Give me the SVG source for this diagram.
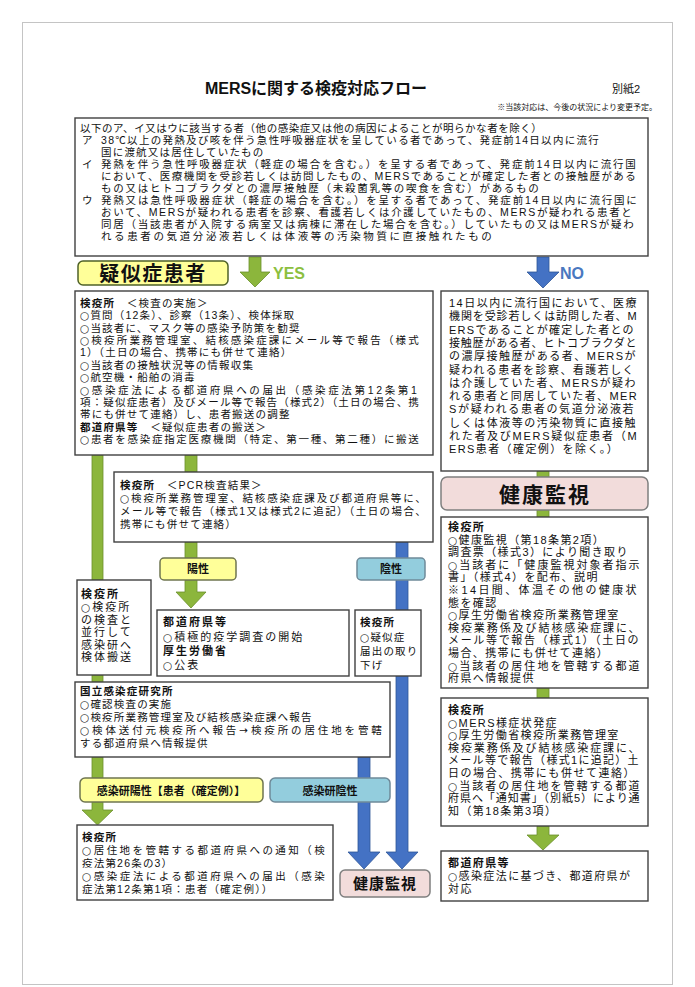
<svg xmlns="http://www.w3.org/2000/svg" width="695" height="987" viewBox="0 0 695 987">
<style>
text{font-family:"Liberation Sans","Noto Sans CJK JP",sans-serif;fill:#111}
.t{font-size:10.5px;letter-spacing:1.2px}
.r{font-size:11px;letter-spacing:1.4px}
.m{font-size:11px;letter-spacing:2px}
.b{font-weight:bold}
.c{font-family:"DejaVu Sans",sans-serif;font-size:10.5px}
.box{fill:#fff;stroke:#404040;stroke-width:1.4}
.g{fill:#8cb63c;stroke:#6b8f2b;stroke-width:0.8}
.bl{fill:#4472c4;stroke:#2f5597;stroke-width:0.8}
.yl{fill:#ffff99;stroke:#6f7550;stroke-width:1.5}
.bu{fill:#93cddd;stroke:#6f8a99;stroke-width:1.5}
.pk{fill:#f2dcdb;stroke:#7f7f7f;stroke-width:1.5}
.lab{font-weight:bold;text-anchor:middle}
</style>
<rect x="22.5" y="22.5" width="650" height="962" fill="none" stroke="#c4c4c4" stroke-width="1"/>

<g id="title">
<text x="316" y="94" text-anchor="middle" font-size="16" font-weight="bold">MERSに関する検疫対応フロー</text>
<text x="612" y="93" font-size="11">別紙2</text>
<text x="657" y="110" text-anchor="end" font-size="8">※当該対応は、今後の状況により変更予定。</text>
</g>

<g id="connectors">
<path class="g" d="M249,257 h12 v15 h9 l-15,15 l-15,-15 h9 z"/>
<text x="273" y="279" font-size="16" font-weight="bold" style="fill:#8cbf3f">YES</text>
<path class="bl" d="M537,257 h12 v15 h10 l-16,16 l-16,-16 h10 z"/>
<text x="560" y="279" font-size="16" font-weight="bold" style="fill:#4a78c0">NO</text>
<rect class="g" x="92" y="455" width="11" height="125"/>
<rect class="g" x="185" y="455" width="12" height="17"/>
<rect class="g" x="185" y="542" width="12" height="16"/>
<path class="g" d="M185,580 h12 v12 h9 l-15,16 l-15,-16 h9 z"/>
<rect class="g" x="92" y="675" width="11" height="7"/>
<rect class="g" x="92" y="757" width="11" height="21"/>
<path class="g" d="M92,802 h11 v8 h10 l-15.5,15 l-15.5,-15 h10 z"/>
<rect class="g" x="537" y="471" width="12" height="6"/>
<rect class="g" x="537" y="510" width="12" height="7"/>
<rect class="g" x="537" y="688" width="12" height="10"/>
<path class="g" d="M537,826 h12 v9 h10 l-16,15 l-16,-15 h10 z"/>
<path class="bl" d="M396,542 h12 v310 h10 l-16,17 l-16,-17 h10 z"/>
<path class="bl" d="M358,757 h12 v95 h10 l-16,17 l-16,-17 h10 z"/>
</g>

<g id="criteria">
<rect class="box" x="75" y="118" width="573" height="138"/>
<text class="t" x="80" y="132" textLength="463" lengthAdjust="spacing">以下のア、イ又はウに該当する者（他の感染症又は他の病因によることが明らかな者を除く）</text>
<text class="t" x="82" y="144">ア</text>
<text class="t" x="101" y="144" textLength="499" lengthAdjust="spacing">38℃以上の発熱及び咳を伴う急性呼吸器症状を呈している者であって、発症前14日以内に流行</text>
<text class="t" x="101" y="156">国に渡航又は居住していたもの</text>
<text class="t" x="82" y="168">イ</text>
<text class="t" x="101" y="168" textLength="536" lengthAdjust="spacing">発熱を伴う急性呼吸器症状（軽症の場合を含む。）を呈する者であって、発症前14日以内に流行国</text>
<text class="t" x="101" y="180" textLength="536" lengthAdjust="spacing">において、医療機関を受診若しくは訪問したもの、MERSであることが確定した者との接触歴がある</text>
<text class="t" x="101" y="192" textLength="439" lengthAdjust="spacing">もの又はヒトコブラクダとの濃厚接触歴（未殺菌乳等の喫食を含む）があるもの</text>
<text class="t" x="82" y="204">ウ</text>
<text class="t" x="101" y="204" textLength="537" lengthAdjust="spacing">発熱又は急性呼吸器症状（軽症の場合を含む。）を呈する者であって、発症前14日以内に流行国に</text>
<text class="t" x="101" y="216" textLength="532" lengthAdjust="spacing">おいて、MERSが疑われる患者を診察、看護若しくは介護していたもの、MERSが疑われる患者と</text>
<text class="t" x="101" y="228" textLength="534" lengthAdjust="spacing">同居（当該患者が入院する病室又は病棟に滞在した場合を含む。）していたもの又はMERSが疑わ</text>
<text class="t" x="101" y="240" textLength="392" lengthAdjust="spacing">れる患者の気道分泌液若しくは体液等の汚染物質に直接触れたもの</text>
</g>

<g id="suspect-label">
<rect class="yl" x="78" y="261" width="150" height="24" rx="5" style="stroke:#4f6228"/>
<text class="lab" x="153" y="281" font-size="20" letter-spacing="1.5">疑似症患者</text>
</g>

<g id="quarantine-exam">
<rect class="box" x="75" y="291" width="358" height="164"/>
<text class="t" x="80" y="307"><tspan class="b">検疫所</tspan>　＜検査の実施＞</text>
<text class="t" x="80" y="319.4"><tspan class="c">○</tspan>質問（12条）、診察（13条）、検体採取</text>
<text class="t" x="80" y="331.7"><tspan class="c">○</tspan>当該者に、マスク等の感染予防策を勧奨</text>
<text class="t" x="80" y="344.1" textLength="340" lengthAdjust="spacing"><tspan class="c">○</tspan>検疫所業務管理室、結核感染症課にメール等で報告（様式</text>
<text class="t" x="80" y="356.4">1）（土日の場合、携帯にも併せて連絡）</text>
<text class="t" x="80" y="368.8"><tspan class="c">○</tspan>当該者の接触状況等の情報収集</text>
<text class="t" x="80" y="381.2"><tspan class="c">○</tspan>航空機・船舶の消毒</text>
<text class="t" x="80" y="393.5" textLength="338" lengthAdjust="spacing"><tspan class="c">○</tspan>感染症法による都道府県への届出（感染症法第12条第1</text>
<text class="t" x="80" y="405.9" textLength="340" lengthAdjust="spacing">項：疑似症患者）及びメール等で報告（様式2）（土日の場合、携</text>
<text class="t" x="80" y="418.2">帯にも併せて連絡）し、患者搬送の調整</text>
<text class="t" x="80" y="430.6"><tspan class="b">都道府県等</tspan>　＜疑似症患者の搬送＞</text>
<text class="t" x="80" y="443" textLength="340" lengthAdjust="spacing"><tspan class="c">○</tspan>患者を感染症指定医療機関（特定、第一種、第二種）に搬送</text>
</g>

<g id="contact-no">
<rect class="box" x="441" y="291" width="207" height="180"/>
<text class="r" x="449" y="307" textLength="189" lengthAdjust="spacing">14日以内に流行国において、医療</text>
<text class="r" x="449" y="320.3" textLength="189" lengthAdjust="spacing">機関を受診若しくは訪問した者、M</text>
<text class="r" x="449" y="333.6" textLength="186" lengthAdjust="spacing">ERSであることが確定した者との</text>
<text class="r" x="449" y="346.9" textLength="189" lengthAdjust="spacing">接触歴がある者、ヒトコブラクダと</text>
<text class="r" x="449" y="360.2" textLength="188" lengthAdjust="spacing">の濃厚接触歴がある者、MERSが</text>
<text class="r" x="449" y="373.5" textLength="186" lengthAdjust="spacing">疑われる患者を診察、看護若しく</text>
<text class="r" x="449" y="386.8" textLength="188" lengthAdjust="spacing">は介護していた者、MERSが疑わ</text>
<text class="r" x="449" y="400.1" textLength="189" lengthAdjust="spacing">れる患者と同居していた者、MER</text>
<text class="r" x="449" y="413.4" textLength="186" lengthAdjust="spacing">Sが疑われる患者の気道分泌液若</text>
<text class="r" x="449" y="426.7" textLength="188" lengthAdjust="spacing">しくは体液等の汚染物質に直接触</text>
<text class="r" x="449" y="440" textLength="189" lengthAdjust="spacing">れた者及びMERS疑似症患者（M</text>
<text class="r" x="449" y="453.3">ERS患者（確定例）を除く。）</text>
</g>

<g id="health-monitor-top">
<rect class="pk" x="441" y="477" width="207" height="33" rx="6"/>
<text class="lab" x="545" y="502" font-size="21" letter-spacing="2">健康監視</text>
</g>

<g id="monitor-detail">
<rect class="box" x="441" y="517" width="207" height="171"/>
<text class="r b" x="448" y="531">検疫所</text>
<text class="r" x="448" y="543.6"><tspan class="c">○</tspan>健康監視（第18条第2項）</text>
<text class="r" x="448" y="556.2">調査票（様式3）により聞き取り</text>
<text class="r" x="448" y="568.8" textLength="193" lengthAdjust="spacing"><tspan class="c">○</tspan>当該者に「健康監視対象者指示</text>
<text class="r" x="448" y="581.4">書」（様式4）を配布、説明</text>
<text class="r" x="448" y="594" textLength="190" lengthAdjust="spacing">※14日間、体温その他の健康状</text>
<text class="r" x="448" y="606.6">態を確認</text>
<text class="r" x="448" y="619.2"><tspan class="c">○</tspan>厚生労働省検疫所業務管理室</text>
<text class="r" x="448" y="631.8" textLength="193" lengthAdjust="spacing">検疫業務係及び結核感染症課に、</text>
<text class="r" x="448" y="644.4" textLength="192" lengthAdjust="spacing">メール等で報告（様式1）（土日の</text>
<text class="r" x="448" y="657">場合、携帯にも併せて連絡）</text>
<text class="r" x="448" y="669.6" textLength="193" lengthAdjust="spacing"><tspan class="c">○</tspan>当該者の居住地を管轄する都道</text>
<text class="r" x="448" y="682.2">府県へ情報提供</text>
</g>

<g id="onset">
<rect class="box" x="441" y="698" width="207" height="128"/>
<text class="r b" x="448" y="714">検疫所</text>
<text class="r" x="448" y="726.6"><tspan class="c">○</tspan>MERS様症状発症</text>
<text class="r" x="448" y="739.2"><tspan class="c">○</tspan>厚生労働省検疫所業務管理室</text>
<text class="r" x="448" y="751.8" textLength="193" lengthAdjust="spacing">検疫業務係及び結核感染症課に、</text>
<text class="r" x="448" y="764.4" textLength="192" lengthAdjust="spacing">メール等で報告（様式1に追記）土</text>
<text class="r" x="448" y="777" textLength="188" lengthAdjust="spacing">日の場合、携帯にも併せて連絡）</text>
<text class="r" x="448" y="789.6" textLength="193" lengthAdjust="spacing"><tspan class="c">○</tspan>当該者の居住地を管轄する都道</text>
<text class="r" x="448" y="802.2" textLength="193" lengthAdjust="spacing">府県へ「通知書」（別紙5）により通</text>
<text class="r" x="448" y="814.8">知（第18条第3項）</text>
</g>

<g id="prefecture-right">
<rect class="box" x="441" y="851" width="207" height="50"/>
<text class="r b" x="448" y="867">都道府県等</text>
<text class="r" x="448" y="880"><tspan class="c">○</tspan>感染症法に基づき、都道府県が</text>
<text class="r" x="448" y="893">対応</text>
</g>

<g id="pcr-result">
<rect class="box" x="114" y="472" width="319" height="70"/>
<text class="t" x="120" y="489"><tspan class="b">検疫所</tspan>　＜PCR検査結果＞</text>
<text class="t" x="120" y="502" textLength="307" lengthAdjust="spacing"><tspan class="c">○</tspan>検疫所業務管理室、結核感染症課及び都道府県等に、</text>
<text class="t" x="120" y="515" textLength="307" lengthAdjust="spacing">メール等で報告（様式1又は様式2に追記）（土日の場合、</text>
<text class="t" x="120" y="528">携帯にも併せて連絡）</text>
</g>

<g id="positive">
<rect class="yl" x="160" y="558" width="76" height="22" rx="4"/>
<text class="lab" x="198" y="573" font-size="11">陽性</text>
</g>

<g id="negative">
<rect class="bu" x="357" y="558" width="68" height="22" rx="4"/>
<text class="lab" x="391" y="573" font-size="11">陰性</text>
</g>

<g id="specimen-transport">
<rect class="box" x="77" y="580" width="74" height="95"/>
<text class="m b" x="81" y="598">検疫所</text>
<text class="m" x="81" y="611"><tspan class="c">○</tspan>検疫所</text>
<text class="m" x="81" y="623.5">の検査と</text>
<text class="m" x="81" y="636">並行して</text>
<text class="m" x="81" y="648.5">感染研へ</text>
<text class="m" x="81" y="661">検体搬送</text>
</g>

<g id="prefecture-survey">
<rect class="box" x="157" y="610" width="192" height="66"/>
<text class="m b" x="163" y="626">都道府県等</text>
<text class="m" x="163" y="640.5"><tspan class="c">○</tspan>積極的疫学調査の開始</text>
<text class="m b" x="163" y="655">厚生労働省</text>
<text class="m" x="163" y="669"><tspan class="c">○</tspan>公表</text>
</g>

<g id="withdraw">
<rect class="box" x="355" y="610" width="66" height="66"/>
<text class="t" x="360" y="626" font-weight="bold">検疫所</text>
<text class="t" x="360" y="640.5"><tspan class="c">○</tspan>疑似症</text>
<text class="t" x="360" y="655">届出の取り</text>
<text class="t" x="360" y="669">下げ</text>
</g>

<g id="niid">
<rect class="box" x="75" y="682" width="315" height="75"/>
<text class="t b" x="80" y="695">国立感染症研究所</text>
<text class="t" x="80" y="708"><tspan class="c">○</tspan>確認検査の実施</text>
<text class="t" x="80" y="721"><tspan class="c">○</tspan>検疫所業務管理室及び結核感染症課へ報告</text>
<text class="t" x="80" y="734" textLength="303" lengthAdjust="spacing"><tspan class="c">○</tspan>検体送付元検疫所へ報告<tspan class="c">→</tspan>検疫所の居住地を管轄</text>
<text class="t" x="80" y="747">する都道府県へ情報提供</text>
</g>

<g id="niid-positive">
<rect class="yl" x="80" y="778" width="183" height="24" rx="5"/>
<text class="lab" x="171" y="794.5" font-size="11">感染研陽性【患者（確定例）】</text>
</g>

<g id="niid-negative">
<rect class="bu" x="270" y="778" width="120" height="24" rx="5"/>
<text class="lab" x="330" y="794.5" font-size="11">感染研陰性</text>
</g>

<g id="notification">
<rect class="box" x="77" y="825" width="256" height="75"/>
<text class="t b" x="82" y="841">検疫所</text>
<text class="t" x="82" y="854" textLength="244" lengthAdjust="spacing"><tspan class="c">○</tspan>居住地を管轄する都道府県への通知（検</text>
<text class="t" x="82" y="867">疫法第26条の3）</text>
<text class="t" x="82" y="880" textLength="244" lengthAdjust="spacing"><tspan class="c">○</tspan>感染症法による都道府県への届出（感染</text>
<text class="t" x="82" y="893">症法第12条第1項：患者（確定例））</text>
</g>

<g id="health-monitor-bottom">
<rect class="pk" x="340" y="870" width="90" height="27" rx="5"/>
<text class="lab" x="385" y="889" font-size="15" letter-spacing="1">健康監視</text>
</g>
</svg>
